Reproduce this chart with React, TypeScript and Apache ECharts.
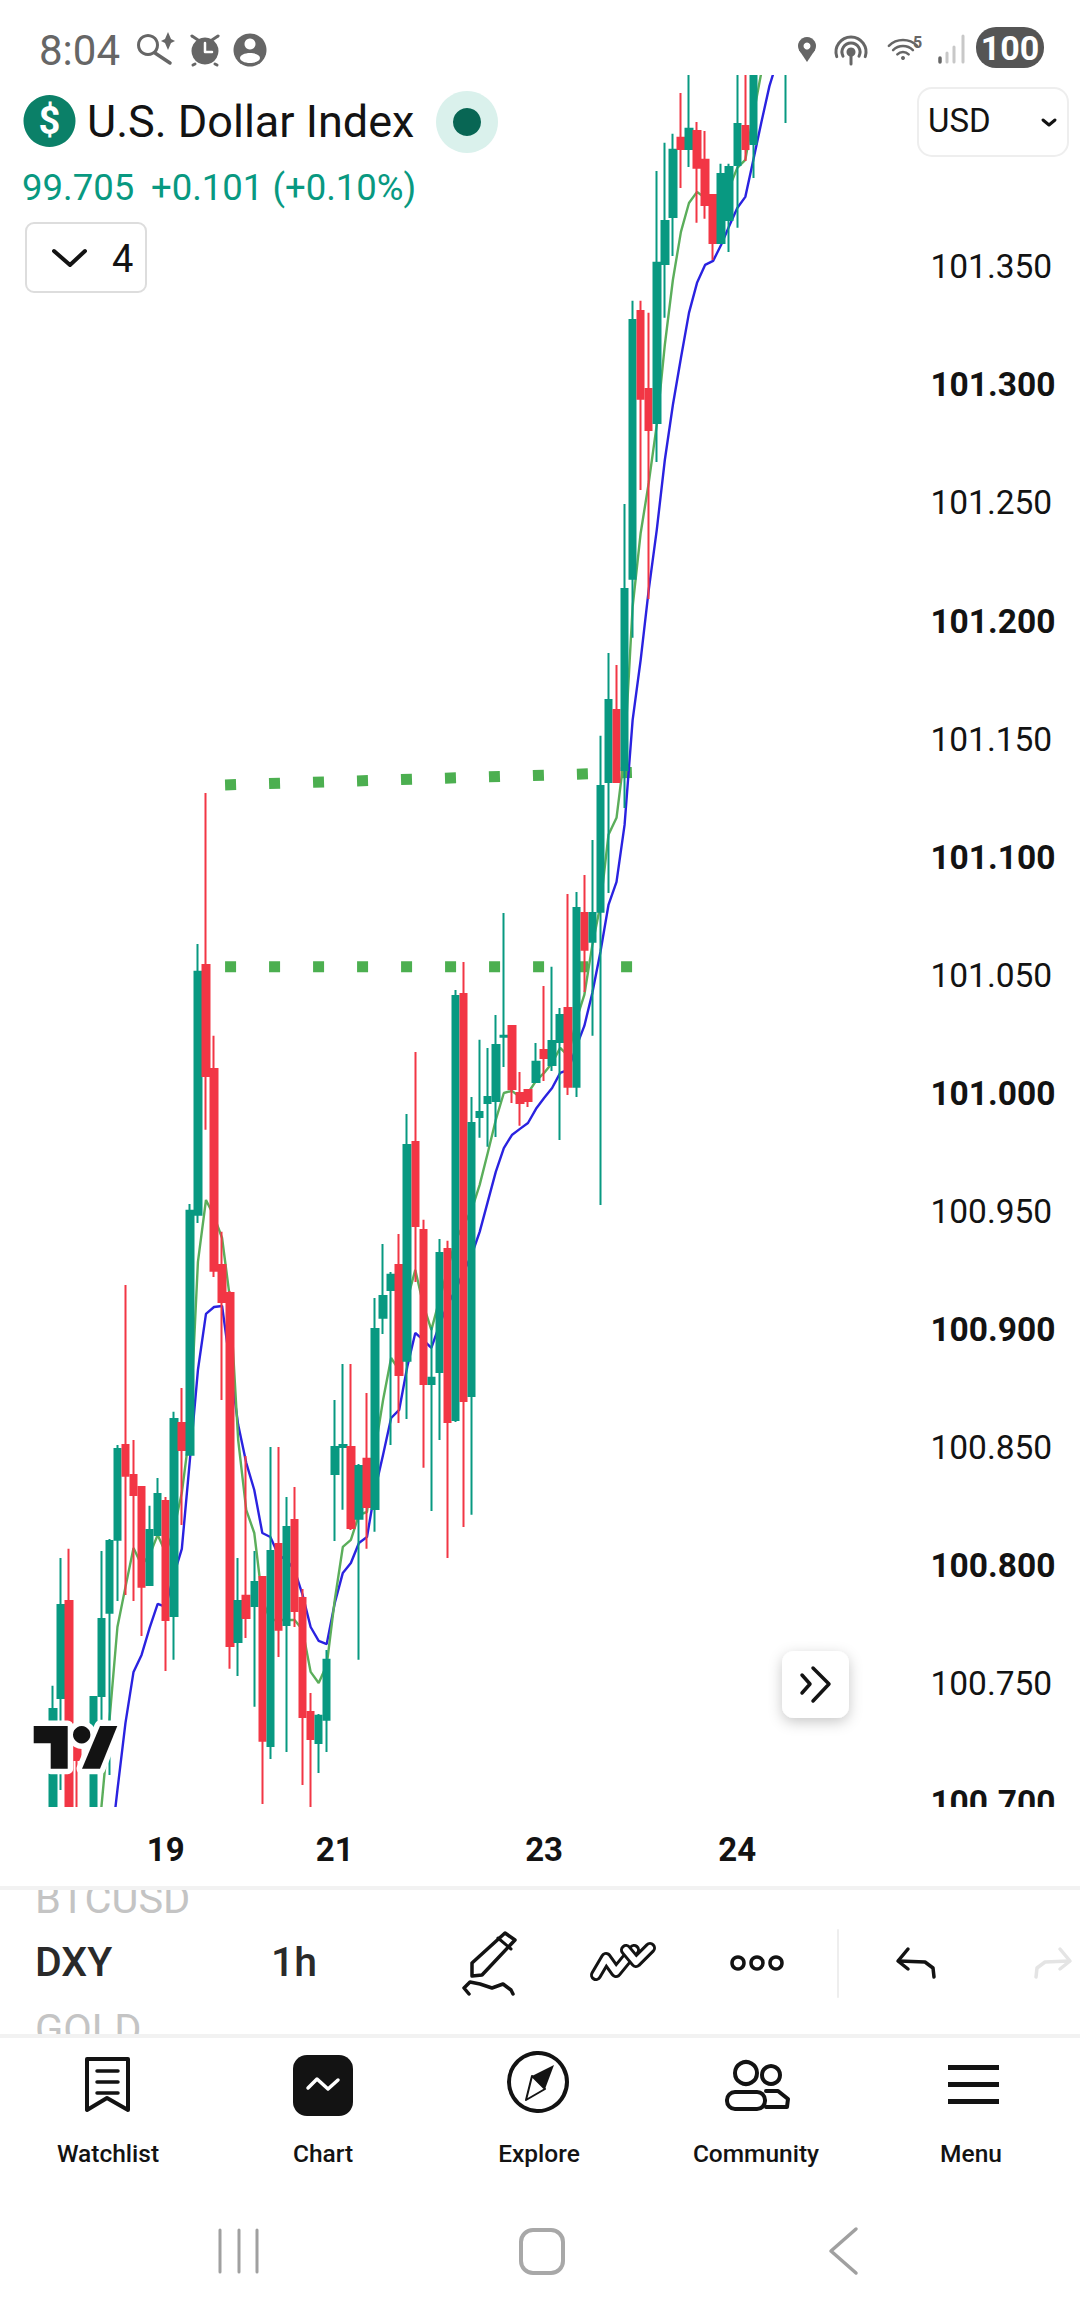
import React, { useEffect, useRef } from "react";
import * as echarts from "echarts";

const FONT = "Roboto";
const UP = "#089981";
const DOWN = "#F23645";

const dayTicks: Record<number, string> = { 14: "19", 35: "21", 61: "23", 85: "24" };
const priceTicks = [100.7, 100.75, 100.8, 100.85, 100.9, 100.95, 101.0, 101.05, 101.1, 101.15, 101.2, 101.25, 101.3, 101.35];
const barSlots = 108;

// open, close, low, high
const ohlc: (number[] | null)[] = [
  [100.6882, 100.7394, 100.684, 100.7492],
  [100.7441, 100.7834, 100.7051, 100.8033],
  [100.7851, 100.6882, 100.684, 100.8072],
  [100.7284, 100.7178, 100.6882, 100.7305],
  null,
  [100.6882, 100.7445, 100.686, 100.7445],
  [100.7449, 100.7775, 100.7348, 100.8063],
  [100.7801, 100.8105, 100.7115, 100.8114],
  [100.811, 100.8495, 100.7851, 100.8512],
  [100.8512, 100.8381, 100.7877, 100.9189],
  [100.8385, 100.83, 100.7851, 100.8533],
  [100.8334, 100.7911, 100.7703, 100.8334],
  [100.7919, 100.8152, 100.7919, 100.8254],
  [100.8131, 100.8304, 100.8131, 100.8372],
  [100.8275, 100.7771, 100.7555, 100.8292],
  [100.7788, 100.8622, 100.7602, 100.8652],
  [100.8605, 100.8491, 100.8173, 100.8753],
  [100.847, 100.9503, 100.847, 100.9532],
  [100.9486, 101.0515, 100.9452, 101.0633],
  [101.0544, 101.0074, 100.9846, 101.1272],
  [101.0104, 100.9249, 100.9223, 101.0244],
  [100.9274, 100.9117, 100.8702, 100.9414],
  [100.9155, 100.7661, 100.7564, 100.9164],
  [100.7678, 100.7851, 100.7534, 100.8033],
  [100.7873, 100.7779, 100.7695, 100.8465],
  [100.783, 100.7932, 100.7403, 100.8063],
  [100.7953, 100.7259, 100.6992, 100.7953],
  [100.7237, 100.8063, 100.7182, 100.8503],
  [100.8093, 100.7729, 100.7614, 100.8503],
  [100.775, 100.8165, 100.7212, 100.8292],
  [100.8194, 100.7809, 100.7741, 100.8334],
  [100.7864, 100.736, 100.7072, 100.7902],
  [100.7381, 100.7267, 100.6975, 100.7462],
  [100.725, 100.7365, 100.7123, 100.7373],
  [100.7348, 100.7602, 100.7212, 100.7644],
  [100.8389, 100.8503, 100.8105, 100.8702],
  [100.8503, 100.8512, 100.8237, 100.8855],
  [100.8503, 100.816, 100.8152, 100.8855],
  [100.8199, 100.8423, 100.7602, 100.8431],
  [100.8453, 100.8249, 100.8072, 100.8732],
  [100.8241, 100.9003, 100.8144, 100.9134],
  [100.905, 100.9143, 100.8982, 100.9363],
  [100.9168, 100.9232, 100.8512, 100.9244],
  [100.9274, 100.8808, 100.8605, 100.9405],
  [100.8868, 100.9782, 100.8622, 100.9913],
  [100.9795, 100.9439, 100.9202, 101.0176],
  [100.9422, 100.877, 100.8415, 100.9465],
  [100.877, 100.8796, 100.8232, 100.9012],
  [100.8821, 100.9325, 100.8533, 100.9384],
  [100.9342, 100.8609, 100.8033, 100.9376],
  [100.8618, 101.0413, 100.8609, 101.0438],
  [101.0421, 100.8698, 100.8165, 101.0557],
  [100.8719, 100.9875, 100.8216, 100.9985],
  [100.99, 100.9922, 100.9812, 101.0227],
  [100.996, 100.9985, 100.9774, 101.0193],
  [100.9968, 101.0205, 100.9816, 101.0332],
  [101.024, 101.0244, 101.0112, 101.0764],
  [101.0286, 101.0019, 100.996, 101.0286],
  [101.0002, 100.996, 100.9863, 101.0091],
  [101.0015, 100.9968, 100.9943, 101.0015],
  [101.0049, 101.0134, 101.0049, 101.0214],
  [101.0184, 101.015, 101.0053, 101.0455],
  [101.0121, 101.0222, 101.0095, 101.0536],
  [101.0218, 101.0332, 100.9803, 101.0362],
  [101.0362, 101.0028, 100.9994, 101.0845],
  [101.0028, 101.0785, 100.9985, 101.0853],
  [101.0764, 101.0608, 101.043, 101.0925],
  [101.0642, 101.0764, 101.0244, 101.1073],
  [101.0769, 101.1302, 100.9528, 101.1514],
  [101.1319, 101.1666, 101.0849, 101.1865],
  [101.1624, 101.1319, 101.1315, 101.1814],
  [101.137, 101.2136, 101.1209, 101.2496],
  [101.2179, 101.3275, 101.1929, 101.3356],
  [101.3313, 101.2941, 101.2555, 101.3356],
  [101.2983, 101.2809, 101.2094, 101.3305],
  [101.2839, 101.3517, 101.2674, 101.3906],
  [101.3512, 101.3694, 101.3284, 101.4025],
  [101.3711, 101.3995, 101.3546, 101.4063],
  [101.4046, 101.3999, 101.3834, 101.4236],
  [101.3999, 101.4084, 101.3923, 101.4334],
  [101.4075, 101.3919, 101.3686, 101.4113],
  [101.3953, 101.3762, 101.3703, 101.4075],
  [101.3804, 101.3601, 101.3529, 101.3804],
  [101.3601, 101.3893, 101.3601, 101.3936],
  [101.3698, 101.3923, 101.3563, 101.3936],
  [101.3931, 101.4105, 101.3665, 101.4376],
  [101.4096, 101.3999, 101.3948, 101.4376],
  [101.402, 101.4376, 101.3876, 101.4418],
  null,
  null,
  null,
  [101.44, 101.45, 101.4109, 101.46],
];

const fastMA: (number | null)[] = [
  null, null, null, null, null, 100.667, 100.6975, 100.7343, 100.7741, 100.7911, 100.8076, 100.8004, 100.8046,
  100.8131, 100.8055, 100.8152, 100.8309, 100.8575, 100.9287, 100.9549, 100.9481, 100.9388, 100.9126, 100.8533,
  100.8237, 100.8139, 100.7856, 100.7771, 100.7771, 100.7771, 100.7771, 100.7729, 100.7551, 100.7504, 100.758,
  100.7856, 100.808, 100.811, 100.8216, 100.8228, 100.8491, 100.8702, 100.888, 100.8829, 100.9126, 100.9253,
  100.9105, 100.8999, 100.9126, 100.9253, 100.938, 100.9443, 100.9507, 100.9613, 100.9748, 100.9888, 101.0002,
  101.0011, 100.9985, 101.0002, 101.0053, 101.0087, 101.0129, 101.0193, 101.0159, 101.0311, 101.0417, 101.0629,
  101.0798, 101.1095, 101.1167, 101.1442, 101.206, 101.2373, 101.2585, 101.2831, 101.3169, 101.3444, 101.3648,
  101.377, 101.3817, 101.3791, 101.3749, 101.3783, 101.3834, 101.3919, 101.3953, 101.4143, 101.4325,
];

const slowMA: (number | null)[] = [
  null, null, null, null, null, null, null, 100.6755, 100.7051, 100.7335, 100.7551, 100.7623, 100.7737, 100.7839,
  100.7826, 100.7961, 100.8072, 100.8448, 100.8829, 100.9067, 100.9096, 100.91, 100.8851, 100.8597, 100.8436,
  100.8321, 100.8139, 100.8122, 100.8046, 100.8025, 100.7983, 100.7877, 100.7741, 100.7682, 100.7669, 100.7843,
  100.797, 100.8012, 100.8097, 100.8122, 100.8321, 100.847, 100.8626, 100.866, 100.8842, 100.8986, 100.8956,
  100.8923, 100.902, 100.9105, 100.9168, 100.9244, 100.9316, 100.9414, 100.9541, 100.9668, 100.9769, 100.9824,
  100.985, 100.9875, 100.9935, 100.9981, 101.0023, 101.0087, 101.01, 101.0197, 101.0286, 101.0426, 101.0599,
  101.0798, 101.0896, 101.1137, 101.1581, 101.1836, 101.2132, 101.2386, 101.2682, 101.2915, 101.3114, 101.3305,
  101.3432, 101.3508, 101.3525, 101.3593, 101.3673, 101.3749, 101.3796, 101.3953, 101.4113, 101.4266, 101.4376,
];

const upperLevel = [[21, 101.1306], [72, 101.1359]];
const lowerLevel = [[21, 101.0536], [72, 101.0536]];

const TOP = 60;
const txt = (text: string, x: number, y: number, fontSize: number, fill: string, extra: any = {}, z = TOP) => ({
  type: "text",
  x,
  y,
  z,
  silent: true,
  style: {
    text,
    fontSize,
    fontFamily: FONT,
    fontWeight: extra.fontWeight ?? 400,
    fill,
    textAlign: extra.align ?? "left",
    textVerticalAlign: "middle",
  },
});
const pl = (points: number[][], stroke: string, lineWidth: number, z = TOP) => ({
  type: "polyline",
  z,
  silent: true,
  shape: { points },
  style: { stroke, lineWidth, fill: "none", lineJoin: "round", lineCap: "round" },
});
const pg = (points: number[][], fill: string, z = TOP, stroke?: string, lineWidth = 0) => ({
  type: "polygon",
  z,
  silent: true,
  shape: { points },
  style: { fill, stroke: stroke ?? "none", lineWidth, lineJoin: "round" },
});
const rc = (x: number, y: number, width: number, height: number, r: number, fill: string, stroke?: string, lineWidth = 0, z = TOP, extra: any = {}) => ({
  type: "rect",
  z,
  silent: true,
  shape: { x, y, width, height, r },
  style: { fill, stroke: stroke ?? "none", lineWidth, ...extra },
});
const ci = (cx: number, cy: number, r: number, fill: string, stroke?: string, lineWidth = 0, z = TOP) => ({
  type: "circle",
  z,
  silent: true,
  shape: { cx, cy, r },
  style: { fill, stroke: stroke ?? "none", lineWidth },
});
const arc = (cx: number, cy: number, r: number, a: number, b: number, stroke: string, lineWidth: number) => ({
  type: "arc",
  z: TOP,
  silent: true,
  shape: { cx, cy, r, startAngle: a, endAngle: b, clockwise: true },
  style: { stroke, lineWidth, fill: "none", lineCap: "round" },
});

const GREY = "#666666";
const INK = "#131313";

const logoLeft = [[33.7, 1726], [67.7, 1726], [67.7, 1768.7], [50.7, 1768.7], [50.7, 1743.3], [33.7, 1743.3]];
const logoRight = [[100, 1726], [117.3, 1726], [100, 1768.7], [82, 1768.7]];

const graphics: any[] = [
  // clip of the plot pane, above and below
  rc(0, 0, 1080, 75, 0, "#ffffff", undefined, 0, 40),
  rc(0, 1807, 1080, 70, 0, "#ffffff", undefined, 0, 40),
  // logo
  pg(logoLeft, "#ffffff", 45, "#ffffff", 11),
  ci(81.7, 1734.7, 8.7, "#ffffff", "#ffffff", 11, 45),
  pg(logoRight, "#ffffff", 45, "#ffffff", 11),
  pg(logoLeft, INK, 46),
  ci(81.7, 1734.7, 8.7, INK, undefined, 0, 46),
  pg(logoRight, INK, 46),
  // status bar
  txt("8:04", 39, 50, 42, GREY),
  ci(148, 45, 9.5, "none", GREY, 3),
  pl([[155, 53], [170, 63]], GREY, 3.5),
  pg([[168, 32], [171, 39], [175, 41], [171, 43], [168, 50], [165, 43], [161, 41], [165, 39]], GREY),
  ci(205, 51, 13.5, GREY),
  pl([[205, 43], [205, 52], [212, 52]], "#ffffff", 2.5),
  pl([[192, 36], [198, 40]], GREY, 3),
  pl([[218, 36], [212, 40]], GREY, 3),
  pl([[195, 64], [193, 65]], GREY, 3),
  pl([[215, 64], [217, 65]], GREY, 3),
  ci(250, 50, 16.5, GREY),
  ci(250, 44, 5.5, "#ffffff"),
  { type: "ellipse", z: TOP, silent: true, shape: { cx: 250, cy: 58, rx: 10, ry: 5 }, style: { fill: "#ffffff" } },
  ci(807, 46, 9, GREY),
  pg([[799, 50], [815, 50], [807, 62]], GREY),
  ci(807, 46, 3.5, "#ffffff"),
  arc(851, 52, 15, Math.PI * 0.9, Math.PI * 2.1, GREY, 3),
  arc(851, 52, 9, Math.PI * 0.85, Math.PI * 2.15, GREY, 3),
  ci(851, 52, 4.5, GREY),
  pl([[851, 53], [851, 64]], GREY, 3),
  arc(903, 60, 20, Math.PI * 1.25, Math.PI * 1.75, GREY, 2.5),
  arc(903, 60, 14, Math.PI * 1.25, Math.PI * 1.75, GREY, 2.5),
  arc(903, 60, 8, Math.PI * 1.25, Math.PI * 1.75, GREY, 2.5),
  ci(903, 58, 2, GREY),
  txt("5", 913, 42, 16, GREY, { fontWeight: 700 }),
  pl([[940, 58], [940, 62]], GREY, 3.5),
  pl([[947, 53], [947, 62]], "#c8c8c8", 3),
  pl([[954, 47], [954, 62]], "#c8c8c8", 3),
  pl([[963, 36], [963, 62]], "#c8c8c8", 3),
  rc(976, 27, 68, 41, 20, "#555555"),
  txt("100", 1010, 48, 34, "#ffffff", { fontWeight: 700, align: "center" }),
  // header
  ci(49.5, 121, 26, "#0B8068"),
  txt("$", 49.5, 121, 38, "#ffffff", { fontWeight: 700, align: "center" }),
  txt("U.S. Dollar Index", 87, 121, 45, INK),
  ci(467, 122, 31, "#DAF1EC"),
  ci(467, 122, 14, "#086654"),
  txt("99.705", 22, 187, 36.5, UP),
  txt("+0.101 (+0.10%)", 151, 187, 36.5, UP),
  rc(26, 223, 120, 69, 8, "#ffffff", "#dddddd", 2),
  pl([[54, 251], [70, 265], [85, 251]], INK, 4),
  txt("4", 112, 259, 38, INK),
  rc(918, 88, 150, 68, 14, "#ffffff", "#eeeeee", 2),
  txt("USD", 928, 120, 33, INK),
  pl([[1043, 120], [1049, 125], [1055, 120]], INK, 3),
  // scroll button
  rc(782, 1651, 67, 67, 12, "#ffffff", undefined, 0, TOP, { shadowBlur: 14, shadowColor: "rgba(0,0,0,0.22)", shadowOffsetY: 4 }),
  pl([[802, 1675], [810, 1684], [802, 1693]], INK, 3.5),
  pl([[813, 1668], [829, 1684], [813, 1701]], INK, 3.5),
  // toolbar
  txt("BTCUSD", 35, 1898, 41.5, "#c4c4c4"),
  rc(0, 1870, 1080, 18, 0, "#ffffff"),
  rc(0, 1886, 1080, 4, 0, "#f2f2f2"),
  txt("DXY", 35, 1962, 41, "#2a2a2a", { fontWeight: 500 }),
  txt("1h", 271, 1962, 41, "#2a2a2a", { fontWeight: 500 }),
  pg([[472, 1963], [505, 1933], [515, 1940], [482, 1975], [472, 1976]], "none", TOP, INK, 3.5),
  pl([[498, 1938], [511, 1949]], INK, 3),
  pl([[469, 1994], [464, 1988], [470, 1982], [480, 1984], [492, 1988], [503, 1984], [511, 1990], [513, 1994]], INK, 3.5),
  pl([[596, 1975], [606, 1958], [616, 1972], [634, 1950]], INK, 12),
  pl([[596, 1975], [606, 1958], [616, 1972], [634, 1950]], "#ffffff", 6),
  pl([[626, 1950], [636, 1962], [650, 1948]], INK, 12),
  pl([[626, 1950], [636, 1962], [650, 1948]], "#ffffff", 6),
  ci(738, 1963, 6, "none", INK, 3.5),
  ci(757, 1963, 6, "none", INK, 3.5),
  ci(776, 1963, 6, "none", INK, 3.5),
  pl([[838, 1930], [838, 1997]], "#eeeeee", 2),
  pl([[908, 1949], [898, 1961], [908, 1969]], INK, 3.5),
  pl([[899, 1961], [925, 1962], [933, 1968], [934, 1977]], INK, 3.5),
  pl([[1060, 1949], [1070, 1961], [1060, 1969]], "#e4e4e4", 3.5),
  pl([[1069, 1961], [1045, 1962], [1037, 1968], [1036, 1977]], "#e4e4e4", 3.5),
  txt("GOLD", 35, 2028, 41.5, "#c4c4c4"),
  rc(0, 2034, 1080, 282, 0, "#ffffff"),
  rc(0, 2034, 1080, 4, 0, "#f2f2f2"),
  // bottom navigation
  {
    type: "group",
    y: -3,
    z: TOP,
    children: [
      pl([[87, 2062], [128, 2062], [128, 2113], [107, 2101], [87, 2113], [87, 2062]], INK, 4),
      pl([[97, 2074], [118, 2074]], INK, 3.5),
      pl([[97, 2085], [118, 2085]], INK, 3.5),
      pl([[97, 2096], [118, 2096]], INK, 3.5),
      txt("Watchlist", 108, 2156, 24.5, INK, { fontWeight: 500, align: "center" }),
      rc(293, 2058, 60, 61, 14, INK),
      pl([[308, 2091], [317, 2082], [328, 2092], [338, 2083]], "#ffffff", 3.5),
      txt("Chart", 323, 2156, 24.5, INK, { fontWeight: 500, align: "center" }),
      ci(538, 2085, 29, "none", INK, 4),
      pg([[554, 2068], [545, 2092], [526, 2103], [532, 2079]], INK),
      pg([[545, 2092], [526, 2103], [532, 2079]], "#ffffff", TOP, INK, 2),
      txt("Explore", 539, 2156, 24.5, INK, { fontWeight: 500, align: "center" }),
      ci(746, 2076, 11, "none", INK, 4),
      ci(771, 2078, 9, "none", INK, 4),
      rc(727, 2095, 38, 17, 8, "none", INK, 4),
      pl([[766, 2094], [778, 2094], [788, 2102], [787, 2110], [766, 2110]], INK, 4),
      txt("Community", 756, 2156, 24.5, INK, { fontWeight: 500, align: "center" }),
      rc(948, 2068, 51, 5, 0, INK),
      rc(948, 2085, 51, 5, 0, INK),
      rc(948, 2102, 51, 5, 0, INK),
      txt("Menu", 971, 2156, 24.5, INK, { fontWeight: 500, align: "center" }),
    ],
  },
  // system bar
  {
    type: "group",
    y: -4,
    z: TOP,
    children: [
      pl([[220, 2234], [220, 2276]], "#a0a0a0", 3),
      pl([[239, 2234], [239, 2276]], "#a0a0a0", 3),
      pl([[257, 2234], [257, 2276]], "#a0a0a0", 3),
      rc(521, 2234, 42, 43, 12, "none", "#a8a8a8", 4),
      pl([[856, 2233], [831, 2255], [856, 2277]], "#a0a0a0", 3.5),
    ],
  },
];

export default function App() {
  const ref = useRef<HTMLDivElement>(null);
  useEffect(() => {
    document.body.style.margin = "0";
    document.body.style.background = "#ffffff";
    const chart = echarts.init(ref.current!, undefined, { renderer: "svg" });
    const categories = Array.from({ length: barSlots }, (_, i) => dayTicks[i] ?? "");
    chart.setOption({
      animation: false,
      backgroundColor: "#ffffff",
      grid: { left: 49, top: 75, width: 869.4, height: 1732, containLabel: false },
      xAxis: {
        type: "category",
        data: categories,
        boundaryGap: true,
        z: 50,
        axisLine: { show: false },
        axisTick: { show: false },
        splitLine: { show: false },
        axisLabel: {
          interval: 0,
          margin: 26,
          color: INK,
          fontFamily: FONT,
          fontSize: 33,
          fontWeight: 700,
        },
      },
      yAxis: {
        type: "value",
        position: "right",
        min: 100.6979,
        max: 101.4312,
        z: 1,
        axisLine: { show: false },
        axisTick: { show: false },
        splitLine: { show: false },
        axisLabel: {
          customValues: priceTicks,
          align: "left",
          margin: 12,
          formatter: (v: number) => {
            const s = v.toFixed(3);
            return Math.round(v * 1000) % 100 === 0 ? `{b|${s}}` : `{n|${s}}`;
          },
          rich: {
            n: { fontFamily: FONT, fontSize: 33.5, fontWeight: 400, color: INK },
            b: { fontFamily: FONT, fontSize: 33.5, fontWeight: 700, color: INK },
          },
        },
      },
      series: [
        ...[upperLevel, lowerLevel].map((level) => ({
          type: "line",
          data: level,
          z: 1,
          silent: true,
          symbol: "none",
          lineStyle: { color: "#4CAF50", width: 11, type: [11, 33], dashOffset: 40.85, cap: "butt" },
        })),
        {
          type: "line",
          data: slowMA,
          z: 2,
          silent: true,
          symbol: "none",
          connectNulls: false,
          lineStyle: { color: "#2A22E0", width: 2.4 },
        },
        {
          type: "line",
          data: fastMA,
          z: 2,
          silent: true,
          symbol: "none",
          connectNulls: false,
          lineStyle: { color: "#5BAE5B", width: 2.4 },
        },
        {
          type: "candlestick",
          data: ohlc.map((r) => r ?? ["-", "-", "-", "-"]),
          z: 3,
          silent: true,
          clip: true,
          barWidth: 7,
          itemStyle: {
            color: UP,
            color0: DOWN,
            borderColor: UP,
            borderColor0: DOWN,
            borderColorDoji: UP,
            borderWidth: 2,
          },
        },
      ],
      graphic: { elements: graphics },
    });
    return () => chart.dispose();
  }, []);
  return <div ref={ref} style={{ width: 1080, height: 2316 }} />;
}
